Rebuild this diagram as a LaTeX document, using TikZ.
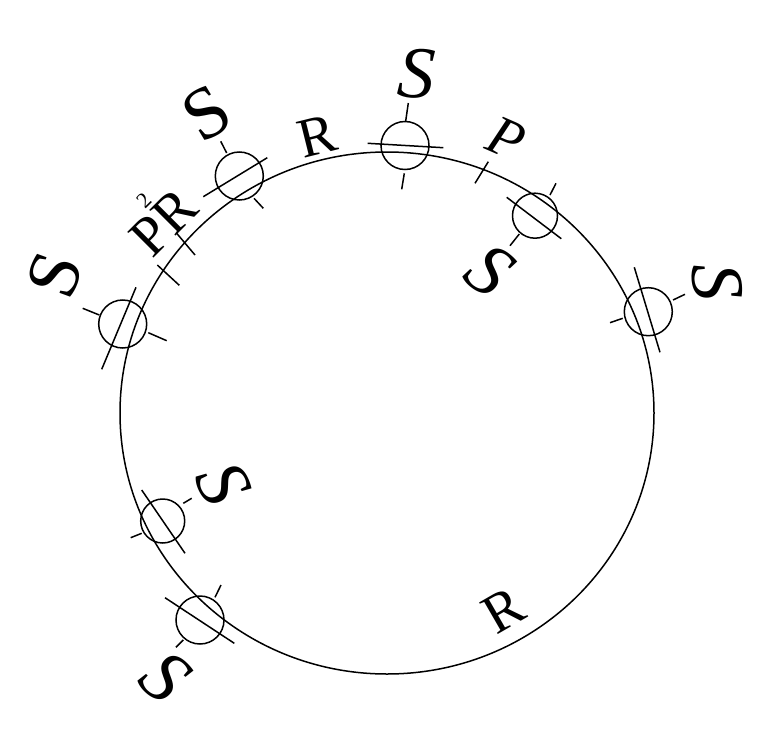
\documentclass[tikz,border=0pt]{standalone}
\usepackage{fontspec}
\setmainfont{Liberation Serif}
\begin{document}
\begin{tikzpicture}[x=1pt,y=1pt,line width=1.5pt,
  bigS/.style={inner sep=0pt,font=\fontsize{74}{74}\selectfont},
  bigSi/.style={inner sep=0pt,font=\fontsize{74}{74}\selectfont\itshape},
  letter/.style={inner sep=0pt,font=\fontsize{56}{56}\selectfont},
  letteri/.style={inner sep=0pt,font=\fontsize{56}{56}\selectfont\itshape},
  ring/.style={draw,circle,inner sep=0pt,line width=1.5pt}]
\useasboundingbox (0,0) rectangle (777,-747);
% main circle
\draw (387,-413) ellipse [x radius=267, y radius=261];
% markers
\node[ring,minimum size=48pt] (m1) at (405,-145.5) {};
\draw (367.7,-143.3) -- (443.3,-147.7);
\draw (408.3,-103) -- (405.7,-121);
\draw (404.3,-173.3) -- (401.7,-189.3);

\node[ring,minimum size=48pt] (m2) at (239.3,-176) {};
\draw (203.3,-196.7) -- (267.3,-157.7);
\draw (220.7,-141.3) -- (226.7,-153);
\draw (254,-198.3) -- (263.3,-208.3);

\node[ring,minimum size=48pt] (m3) at (122.7,-324) {};
\draw (101.7,-369.3) -- (136,-287.3);
\draw (82.7,-308.3) -- (99.3,-315);
\draw (148.3,-332.7) -- (166.7,-340.7);

\node[ring,minimum size=45pt] (m4) at (535,-215.7) {};
\draw (506.7,-197.3) -- (561.3,-238.7);
\draw (556,-183.3) -- (550,-195);
\draw (519.3,-234) -- (510,-245.7);

\node[ring,minimum size=48pt] (m5) at (648.3,-311.7) {};
\draw (634.3,-267.3) -- (660,-352.3);
\draw (673,-300) -- (685,-294.3);
\draw (610,-322.7) -- (622.7,-318.3);

\node[ring,minimum size=44pt] (m6) at (162.7,-521) {};
\draw (141.7,-490) -- (185,-553.3);
\draw (130.7,-537.7) -- (141.7,-533.3);
\draw (183.3,-503.3) -- (191.7,-498.3);

\node[ring,minimum size=48pt] (m7) at (200,-620) {};
\draw (165,-597.7) -- (234.3,-643.3);
\draw (176,-647.3) -- (183.3,-640);
\draw (215,-597.3) -- (221,-585);
% free ticks
\draw (176.7,-233.3) -- (195,-255);
\draw (157.3,-265) -- (179.3,-285.3);
\draw (475,-183.3) -- (488.3,-161.7);
% labels
\node[bigSi,rotate=-4] (s1) at (416.7,-73.3) {S};
\node[bigS,rotate=31] (s2) at (206.7,-113.3) {S};
\node[bigS,rotate=70] (s3) at (55,-275) {S};
\node[bigSi,rotate=-37] (s4) at (490,-270) {S};
\node[bigSi,rotate=-85] (s5) at (716.7,-281.7) {S};
\node[bigSi,rotate=-64] (s6) at (223.3,-483.3) {S};
\node[bigSi,rotate=-42] (s7) at (165,-676.7) {S};
\node[letter,rotate=14] (r1) at (316.7,-136) {R};
\node[letteri,rotate=-23.5] (p1) at (506.7,-138.3) {P};
\node[letter,rotate=45] (pr) at (164,-222) {\makebox[0pt][l]{\smash{\raisebox{0.72em}{\hspace{0.54em}\fontsize{22}{22}\selectfont 2}}}PR};
\node[letter,rotate=30] (r2) at (503.3,-610) {R};
\end{tikzpicture}
\end{document}
